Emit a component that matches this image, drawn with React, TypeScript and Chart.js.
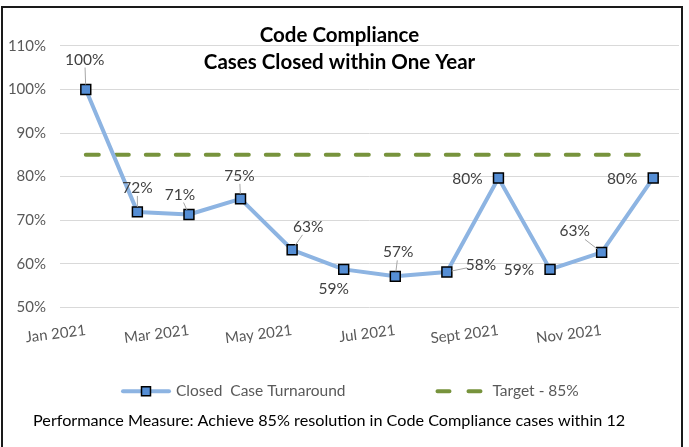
import React, { useEffect, useRef } from 'react';
import { Chart, registerables } from 'chart.js';
Chart.register(...registerables);

const FONT = 'Lato';

const months = ['Jan 2021', 'Feb 2021', 'Mar 2021', 'Apr 2021', 'May 2021', 'Jun 2021', 'Jul 2021', 'Aug 2021', 'Sept 2021', 'Oct 2021', 'Nov 2021', 'Dec 2021'];
const closedRate = [100, 71.9, 71.3, 74.9, 63.2, 58.7, 57.1, 58.1, 79.7, 58.7, 62.6, 79.7];
const targetRate = [85, 85, 85, 85, 85, 85, 85, 85, 85, 85, 85, 85];
const yTicks = [50, 60, 70, 80, 90, 100, 110];
const titleLines = ['Code Compliance', 'Cases Closed within One Year'];
const footerText = 'Performance Measure: Achieve 85% resolution in Code Compliance cases within 12';
const seriesNames = ['Closed  Case Turnaround', 'Target - 85%'];

// label placement relative to each point (pixels), and whether a leader line is drawn
const labelDx = [-1, 0, -9, -1, 16, -10, 3, 34, -31, -31, -27, -31];
const labelDy = [-30, -24, -20, -23, -23, 20, -24, -7, 1, 1, -21, 1];
const labelLeader = [true, true, true, true, true, false, true, true, false, false, true, false];

const BLUE_LINE = '#8db4e2';
const MARKER = '#558ed5';
const GREEN = '#77933c';
const GRAY_TEXT = '#595959';

const pointLabels = {
  id: 'pointLabels',
  afterDatasetsDraw(chart: any) {
    const meta = chart.getDatasetMeta(0);
    const ctx = chart.ctx;
    ctx.save();
    ctx.font = `15.5px ${FONT}`;
    ctx.textAlign = 'center';
    ctx.textBaseline = 'middle';
    meta.data.forEach((pt: any, i: number) => {
      const lx = pt.x + labelDx[i];
      const ly = pt.y + labelDy[i];
      if (labelLeader[i]) {
        const dx = pt.x - lx;
        const dy = pt.y - ly;
        const len = Math.hypot(dx, dy);
        const t = Math.min(dx === 0 ? 1e9 : 14 / Math.abs(dx), dy === 0 ? 1e9 : 8 / Math.abs(dy));
        const sx = lx + dx * t;
        const sy = ly + dy * t;
        const ex = pt.x - (dx / len) * 5;
        const ey = pt.y - (dy / len) * 5;
        ctx.strokeStyle = '#a6a6a6';
        ctx.lineWidth = 1;
        ctx.beginPath();
        ctx.moveTo(sx, sy);
        ctx.lineTo(ex, ey);
        ctx.stroke();
      }
      ctx.fillStyle = '#404040';
      ctx.fillText(Math.round(closedRate[i]) + '%', lx, ly);
    });
    ctx.restore();
  },
};

const excelLegend = {
  id: 'excelLegend',
  afterDraw(chart: any) {
    const { ctx, chartArea } = chart;
    const y = chartArea.bottom + 84;
    let x = chartArea.left + 61;
    ctx.save();
    ctx.font = `15.5px ${FONT}`;
    ctx.textBaseline = 'middle';
    ctx.textAlign = 'left';
    ctx.strokeStyle = BLUE_LINE;
    ctx.lineWidth = 4;
    ctx.lineCap = 'round';
    ctx.beginPath();
    ctx.moveTo(x + 2, y);
    ctx.lineTo(x + 48, y);
    ctx.stroke();
    ctx.fillStyle = MARKER;
    ctx.fillRect(x + 20.5, y - 4.5, 9, 9);
    ctx.lineWidth = 1.5;
    ctx.strokeStyle = '#000';
    ctx.strokeRect(x + 20.5, y - 4.5, 9, 9);
    ctx.fillStyle = GRAY_TEXT;
    ctx.fillText(seriesNames[0], x + 55, y);
    x = x + 55 + ctx.measureText(seriesNames[0]).width + 90;
    ctx.strokeStyle = GREEN;
    ctx.lineWidth = 4;
    ctx.setLineDash([12, 19]);
    ctx.beginPath();
    ctx.moveTo(x + 2, y);
    ctx.lineTo(x + 46, y);
    ctx.stroke();
    ctx.setLineDash([]);
    ctx.fillStyle = GRAY_TEXT;
    ctx.fillText(seriesNames[1], x + 57, y);
    ctx.restore();
  },
};

export default function App() {
  const ref = useRef<HTMLCanvasElement>(null);
  useEffect(() => {
    document.body.style.margin = '0';
    const chart = new Chart(ref.current as HTMLCanvasElement, {
      type: 'line',
      data: {
        labels: months,
        datasets: [
          {
            label: seriesNames[0],
            data: closedRate,
            borderColor: BLUE_LINE,
            borderWidth: 4,
            borderCapStyle: 'round',
            borderJoinStyle: 'round',
            pointStyle: 'rect',
            pointRadius: 7,
            pointBackgroundColor: MARKER,
            pointBorderColor: '#000',
            pointBorderWidth: 1.5,
            tension: 0,
          },
          {
            label: seriesNames[1],
            data: targetRate,
            borderColor: GREEN,
            borderWidth: 4,
            borderDash: [13, 17],
            borderCapStyle: 'round',
            pointRadius: 0,
            tension: 0,
          },
        ],
      },
      options: {
        responsive: false,
        animation: false,
        devicePixelRatio: 1,
        layout: { padding: { left: 0, right: 10, top: 0, bottom: 0 } },
        scales: {
          x: {
            type: 'category',
            offset: true,
            grid: { display: false, drawTicks: false },
            border: { display: false },
            ticks: {
              autoSkip: false,
              minRotation: 7,
              maxRotation: 7,
              padding: 14,
              color: GRAY_TEXT,
              font: { family: FONT, size: 15 },
              callback: (_v: any, i: number) => (i % 2 === 0 ? months[i] : ''),
            },
            afterFit: (s: any) => {
              s.height = 100;
            },
          },
          y: {
            min: 50,
            max: 110,
            afterBuildTicks: (s: any) => {
              s.ticks = yTicks.map((v) => ({ value: v }));
            },
            ticks: {
              padding: 14,
              color: GRAY_TEXT,
              font: { family: FONT, size: 15 },
              callback: (v: any) => v + '%',
            },
            grid: { color: '#d9d9d9', drawTicks: false, lineWidth: 1 },
            border: { display: false },
            afterFit: (s: any) => {
              s.width = 60;
            },
          },
        },
        plugins: {
          legend: { display: false },
          tooltip: { enabled: false },
          title: {
            display: true,
            text: titleLines,
            color: '#000',
            font: { family: FONT, size: 20.5, weight: 'bold', lineHeight: 1.317 },
            padding: { top: 21.5, bottom: -29.5 },
          },
          subtitle: {
            display: true,
            position: 'bottom',
            text: footerText + '     ',
            color: '#000',
            font: { family: FONT, size: 16.2, lineHeight: 1.2 },
            padding: { top: 4, bottom: 16.3 },
          },
        },
      } as any,
      plugins: [pointLabels, excelLegend],
    });
    return () => chart.destroy();
  }, []);

  return (
    <div style={{ position: 'relative', width: 689, height: 447, overflow: 'hidden', background: '#fff' }}>
      <canvas ref={ref} width={689} height={447} style={{ display: 'block' }} />
      <div
        style={{
          position: 'absolute',
          left: 1,
          top: 6,
          width: 678,
          height: 470,
          border: '2px solid #1a1a1a',
          pointerEvents: 'none',
        }}
      />
    </div>
  );
}
